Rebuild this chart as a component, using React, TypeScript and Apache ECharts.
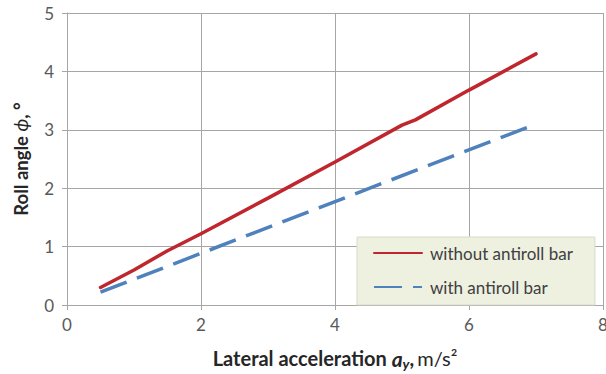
import React, { useEffect, useRef } from "react";
import * as echarts from "echarts";

const withoutX = [0.5, 1, 1.5, 2, 3, 4, 5, 5.2, 6, 7];
const withoutY = [0.3, 0.6, 0.93, 1.22, 1.83, 2.45, 3.08, 3.17, 3.68, 4.3];
const withX = [0.5, 7];
const withY = [0.22, 3.1];
const seriesNames = ["without antiroll bar", "with antiroll bar"];

export default function App() {
  const ref = useRef<HTMLDivElement>(null);
  useEffect(() => {
    if (!ref.current) return;
    const chart = echarts.init(ref.current, null, { renderer: "svg" });
    const font = "Lato, 'Open Sans', sans-serif";
    const grey = "#a6a6a6";
    const dark = "#262626";
    chart.setOption({
      animation: false,
      textStyle: { fontFamily: font },
      grid: { left: 67, right: 3, top: 13, bottom: 69, containLabel: false, outerBoundsMode: "none" },
      xAxis: {
        type: "value",
        min: 0,
        max: 8,
        interval: 2,
        name: "{b|Lateral acceleration }{bi|a}{sub|y}{b|,} {n|m/s²}",
        nameLocation: "middle",
        nameGap: 41,
        nameTextStyle: {
          rich: {
            b: { fontSize: 20, fontWeight: "bold", color: dark, fontFamily: font, lineHeight: 24, verticalAlign: "middle" },
            bi: { fontSize: 21, fontWeight: "bold", fontStyle: "italic", color: dark, fontFamily: font, lineHeight: 24, verticalAlign: "middle" },
            sub: { fontSize: 14, fontWeight: "bold", fontStyle: "italic", color: dark, fontFamily: font, lineHeight: 14, verticalAlign: "bottom" },
            n: { fontSize: 20, color: dark, fontFamily: font, lineHeight: 24, verticalAlign: "middle" },
          },
        },
        axisLine: { show: true, lineStyle: { color: grey, width: 1 } },
        axisTick: { show: true, length: 5, lineStyle: { color: grey } },
        axisLabel: { fontSize: 17, color: "#595959", margin: 11, fontFamily: font },
        splitLine: { show: true, lineStyle: { color: grey, width: 1 } },
      },
      yAxis: {
        type: "value",
        min: 0,
        max: 5,
        interval: 1,
        name: "{b|Roll angle }{i|ϕ}{b|, °}",
        nameLocation: "middle",
        nameGap: 37,
        nameTextStyle: {
          rich: {
            b: { fontSize: 18.5, fontWeight: "bold", color: dark, fontFamily: font },
            i: { fontSize: 18.5, fontStyle: "italic", color: dark, fontFamily: font },
          },
        },
        axisLine: { show: true, lineStyle: { color: grey, width: 1 } },
        axisTick: { show: true, length: 5, lineStyle: { color: grey } },
        axisLabel: { fontSize: 17, color: "#595959", margin: 13, fontFamily: font },
        splitLine: { show: true, lineStyle: { color: grey, width: 1 } },
      },
      legend: {
        orient: "vertical",
        left: 357,
        top: 237,
        padding: [6, 22, 8, 16],
        itemGap: 14,
        itemWidth: 48,
        itemHeight: 14,
        backgroundColor: "#eef0e0",
        borderColor: "#d8dacb",
        borderWidth: 1,
        itemStyle: { opacity: 0 },
        textStyle: { fontSize: 17, color: "#404040", fontFamily: font, lineHeight: 20, padding: [0, 0, 0, 3] },
        data: seriesNames,
      },
      series: [
        {
          name: seriesNames[0],
          type: "line",
          data: withoutX.map((x, i) => [x, withoutY[i]]),
          symbol: "none",
          lineStyle: { color: "#c0262d", width: 3.5, cap: "round" },
          itemStyle: { color: "#c0262d" },
        },
        {
          name: seriesNames[1],
          type: "line",
          data: withX.map((x, i) => [x, withY[i]]),
          symbol: "none",
          lineStyle: { color: "#4f81bd", width: 3.5, type: [28, 11] },
          itemStyle: { color: "#4f81bd" },
        },
      ],
    });
    return () => chart.dispose();
  }, []);
  return (
    <div
      ref={ref}
      style={{ position: "fixed", left: 0, top: 0, width: 606, height: 374, background: "#fff" }}
    />
  );
}
